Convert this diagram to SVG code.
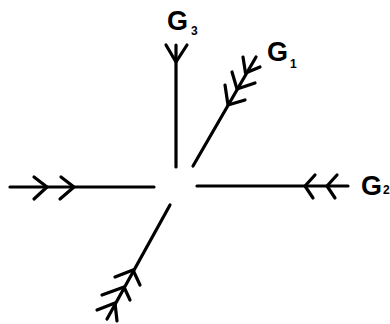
<svg xmlns="http://www.w3.org/2000/svg" width="390" height="324" viewBox="0 0 390 324">
<style>
.ln{fill:none;stroke:#000;stroke-width:3.2;stroke-linecap:round;stroke-linejoin:round}
.lbl{font-family:"Liberation Sans",Arial,sans-serif;font-size:27px;font-weight:bold;fill:#000}
.sub{font-size:12px;font-weight:bold}
</style>
<rect width="390" height="324" fill="#fff"/>
<g id="connectors">
  <g id="edge-left">
    <path class="ln" d="M10,187 H154"/>
    <path class="ln" d="M34,177 L47,187 L34,199"/>
    <path class="ln" d="M61,177 L74,187 L60,199"/>
  </g>
  <g id="edge-G2">
    <path class="ln" d="M197,186 H348"/>
    <path class="ln" d="M315,175 L305,186 L313,198"/>
    <path class="ln" d="M337,175 L327,186 L335,198"/>
  </g>
  <g id="edge-G3">
    <path class="ln" d="M176,45 V167"/>
    <path class="ln" d="M166,45 L176,62 L187,45"/>
  </g>
  <g id="edge-G1">
    <path class="ln" d="M193,166 L256,57"/>
    <path class="ln" d="M225,85 L228,105 L245,100"/>
    <path class="ln" d="M232,72 L237,89 L255,83"/>
    <path class="ln" d="M243,57 L245.5,73 L260,67"/>
  </g>
  <g id="edge-lower">
    <path class="ln" d="M170,205 L107,319"/>
    <path class="ln" d="M115,277 L133,270 L140,285"/>
    <path class="ln" d="M102,295 L124,287 L130,300"/>
    <path class="ln" d="M97,310 L115,303 L117,321"/>
  </g>
</g>
<g id="G3"><text class="lbl" x="167" y="30">G<tspan class="sub" dx="3" dy="5">3</tspan></text></g>
<g id="G1"><text class="lbl" x="267" y="61">G<tspan class="sub" dx="2" dy="7">1</tspan></text></g>
<g id="G2"><text class="lbl" x="361" y="195">G<tspan class="sub" dx="1" dy="-1">2</tspan></text></g>
</svg>
